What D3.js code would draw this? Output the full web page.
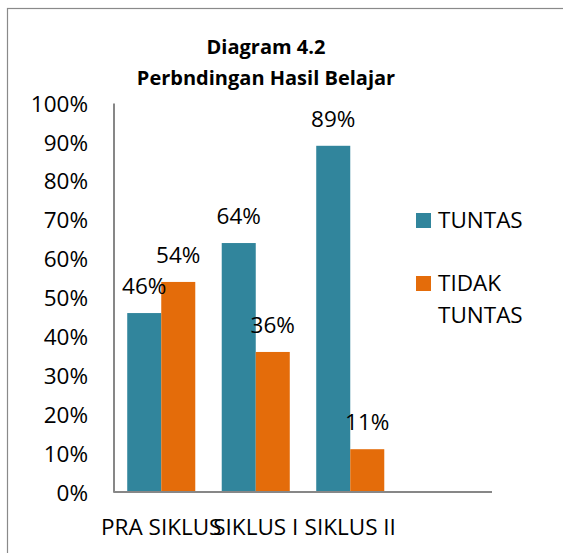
<!DOCTYPE html>
<html>
  <head>
    <meta charset="utf-8">
    <style>
    body { margin: 0; background: #fff; }
    .title { font-family: "Open Sans", sans-serif; font-size: 20px; font-weight: bold; fill: #000; }
    .label { font-family: "Open Sans", sans-serif; font-size: 22.5px; fill: #000; }
    </style>
    <script src="https://d3js.org/d3.v7.min.js"></script>
  </head>
  <body>
    <script type="text/javascript">
    var categories = ["PRA SIKLUS", "SIKLUS I", "SIKLUS II", ""];
    var series = ["TUNTAS", "TIDAK TUNTAS"];
    var tuntas = [0.46, 0.64, 0.89];
    var tidakTuntas = [0.54, 0.36, 0.11];
    var yTicks = [0, 0.1, 0.2, 0.3, 0.4, 0.5, 0.6, 0.7, 0.8, 0.9, 1];

    var width = 563, height = 553;
    var color = d3.scaleOrdinal().domain(series).range(["#31859C", "#E46C0A"]);

    var svg = d3.select("body").append("svg")
                .attr("width", width)
                .attr("height", height);

    // chart frame (cut off at right and bottom)
    svg.append("rect")
       .attr("x", 7.5).attr("y", 8.5)
       .attr("width", 700).attr("height", 700)
       .attr("fill", "none")
       .attr("stroke", "#8a8a8a")
       .attr("stroke-width", 1.2);

    // tail of the document heading above the frame
    svg.append("text").attr("class", "label")
       .attr("x", 46).attr("y", -5).text("g");

    var x0 = d3.scaleBand()
               .domain(categories)
               .range([114, 492])
               .paddingInner(0.28)
               .paddingOuter(0.14);
    var x1 = d3.scaleBand()
               .domain(series)
               .range([0, x0.bandwidth()]);
    var y = d3.scaleLinear().domain([0, 1]).range([492, 103]);

    var rows = categories.slice(0, tuntas.length).map(function(c, i) {
        return { cat: c, values: [
            { key: series[0], value: tuntas[i] },
            { key: series[1], value: tidakTuntas[i] } ] };
    });

    var groups = svg.selectAll(".grp")
                    .data(rows)
                    .enter().append("g")
                    .attr("transform", function(d) { return "translate(" + x0(d.cat) + ",0)"; });

    groups.selectAll("rect")
          .data(function(d) { return d.values; })
          .enter().append("rect")
          .attr("x", function(d) { return x1(d.key); })
          .attr("y", function(d) { return y(d.value); })
          .attr("width", x1.bandwidth())
          .attr("height", function(d) { return y(0) - y(d.value); })
          .attr("fill", function(d) { return color(d.key); });

    groups.selectAll("text")
          .data(function(d) { return d.values; })
          .enter().append("text")
          .attr("class", "label")
          .attr("text-anchor", "middle")
          .attr("x", function(d) { return x1(d.key) + x1.bandwidth() / 2; })
          .attr("y", function(d) { return y(d.value) - 19; })
          .text(function(d) { return Math.round(d.value * 100) + "%"; });

    // axes
    var yAxis = svg.append("g")
                   .attr("transform", "translate(113.5,0)")
                   .call(d3.axisLeft(y).tickValues(yTicks).tickSize(0).tickFormat(d3.format(".0%")));
    yAxis.select(".domain").attr("stroke", "#878787").attr("stroke-width", 2);
    yAxis.selectAll("text")
         .attr("class", "label")
         .attr("x", -25.5)
         .attr("dy", "0.36em")
         .attr("font-family", null).attr("font-size", null);

    var xAxis = svg.append("g")
                   .attr("transform", "translate(0,492)")
                   .call(d3.axisBottom(x0).tickSize(0).tickSizeOuter(0));
    xAxis.select(".domain").attr("stroke", "#878787").attr("stroke-width", 2)
         .attr("d", "M113.5,0H492");
    xAxis.selectAll("text")
         .attr("class", "label")
         .attr("y", 43)
         .attr("dy", 0)
         .attr("font-family", null).attr("font-size", null);
    xAxis.selectAll(".tick").attr("transform", function(d) {
        return "translate(" + (x0(d) + x0.bandwidth() / 2) + ",0)";
    });

    // title
    svg.append("text").attr("class", "title")
       .attr("x", 266).attr("y", 54).attr("text-anchor", "middle")
       .text("Diagram 4.2");
    svg.append("text").attr("class", "title")
       .attr("x", 266).attr("y", 85).attr("text-anchor", "middle")
       .text("Perbndingan Hasil Belajar");

    // legend
    var legendLines = [["TUNTAS"], ["TIDAK", "TUNTAS"]];
    var legend = svg.selectAll(".legend")
                    .data(series)
                    .enter().append("g")
                    .attr("transform", function(d, i) { return "translate(416," + (213 + i * 63) + ")"; });
    legend.append("rect")
          .attr("width", 15).attr("height", 15)
          .attr("fill", function(d) { return color(d); });
    legend.append("text")
          .attr("class", "label")
          .selectAll("tspan")
          .data(function(d, i) { return legendLines[i]; })
          .enter().append("tspan")
          .attr("x", 22)
          .attr("y", function(d, j) { return 15 + j * 32; })
          .text(function(d) { return d; });
    </script>
  </body>
</html>
